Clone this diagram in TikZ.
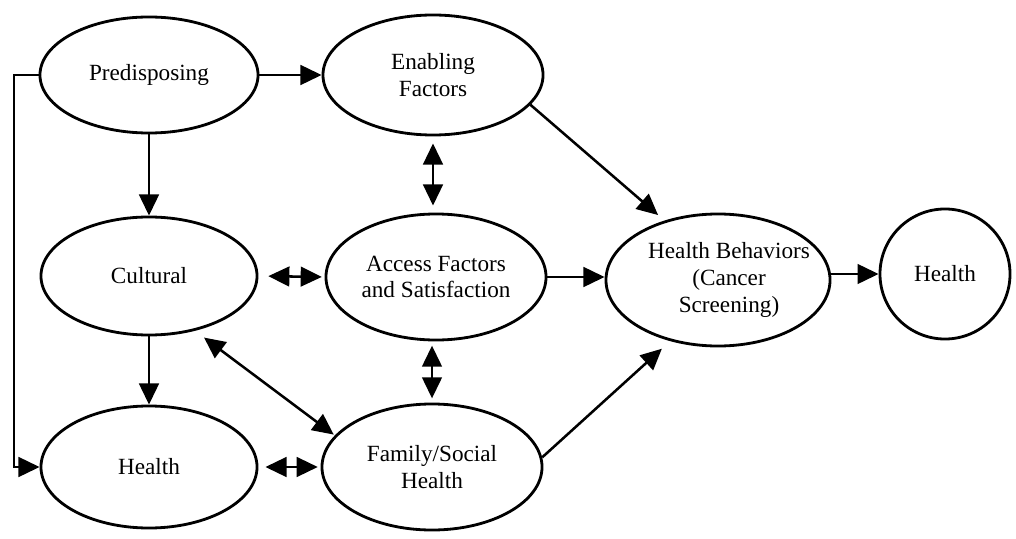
\documentclass[tikz,border=0pt]{standalone}
\usepackage{fontspec}
\setmainfont{Liberation Serif}
\usetikzlibrary{shapes.geometric}
\usetikzlibrary{arrows.meta}

\tikzset{
  factor/.style={ellipse,draw,line width=2pt,inner sep=0pt,align=center,
    font=\fontsize{16.5}{19}\selectfont},
  link/.style={line width=1.8pt,-{Triangle[length=15pt,width=14pt]}},
  twoway/.style={line width=1.8pt,{Triangle[length=15pt,width=14pt]}-{Triangle[length=15pt,width=14pt]}},
}

\begin{document}
\begin{tikzpicture}[x=0.025cm,y=-0.025cm]
\useasboundingbox (0,0) rectangle (1016,538);

% left column
\node[factor,minimum width=5.45cm,minimum height=2.9cm]  (pre)  at (149,75)  {Predisposing};
\node[factor,minimum width=5.4cm,minimum height=2.95cm]  (cult) at (149,276) {Cultural};
\node[factor,minimum width=5.4cm,minimum height=3.05cm]  (hlth) at (149,467) {Health};
% middle column
\node[factor,minimum width=5.5cm,minimum height=3cm]     (enab) at (433,75)  {Enabling\\Factors};
\node[factor,minimum width=5.5cm,minimum height=3.15cm]  (acc)  at (436,277) {Access Factors\\and Satisfaction};
\node[factor,minimum width=5.5cm,minimum height=3.15cm]  (fam)  at (432,467) {Family/Social\\Health};
% outcome side (text sits a bit right of centre)
\node[factor,inner xsep=-1cm,minimum width=5.6cm,minimum height=3.3cm] (behav) at (718,280)
  {\hspace*{0.55cm}Health Behaviors\\\hspace*{0.55cm}(Cancer\\\hspace*{0.55cm}Screening)};
\node[factor,circle,minimum size=3.25cm]                 (out)  at (945,274) {Health};

\coordinate (bend) at (14,75);

\draw[link] (pre) -- (enab);
\draw[link] (pre) -- (cult);
\draw[link] (pre.west) -- (bend) |- (hlth.west);
\draw[link] (cult) -- (hlth);
\draw[twoway,shorten <=7pt,shorten >=2pt] (cult.east) -- (acc.west);
\draw[twoway,shorten <=5pt,shorten >=2pt] (hlth.east) -- (fam.west);
\draw[twoway,shorten <=8pt,shorten >=1pt] (cult.-50) -- (fam.162);
\draw[twoway,shorten <=5pt,shorten >=5pt] (enab.south) -- (enab.south |- acc.north);
\draw[twoway,shorten <=3pt,shorten >=3pt] (acc.south -| fam.north) -- (fam.north);
\draw[link,shorten >=6pt] (enab.-17) -- (behav.132);
\draw[link] (acc.east) -- (acc.east -| behav.west);
\draw[link,shorten >=8pt] (fam.5) -- (behav.-128);
\draw[link] (out.west -| behav.east) -- (out.west);
\end{tikzpicture}
\end{document}
